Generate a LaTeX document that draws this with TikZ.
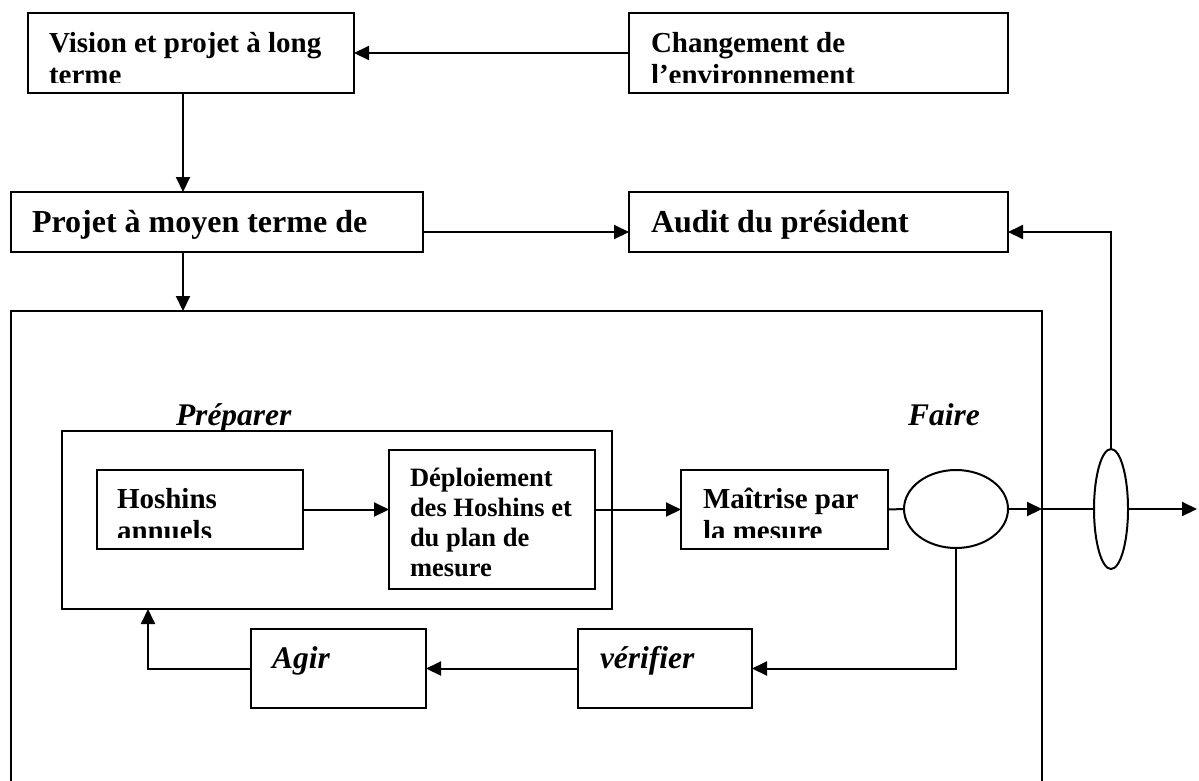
\documentclass[tikz,border=0pt]{standalone}
\usepackage{fontspec}
\setmainfont{Liberation Serif}
\usetikzlibrary{arrows.meta,shapes.geometric,calc}
\begin{document}
\begin{tikzpicture}[x=1pt,y=-1pt,
  frame/.style={draw,line width=2pt,inner sep=0pt,outer sep=0pt},
  lbl/.style={inner sep=0pt,outer sep=0pt,anchor=base west,font=\fontsize{29}{32}\selectfont\bfseries},
  biglbl/.style={lbl,font=\fontsize{32}{36}\selectfont\bfseries},
  smalllbl/.style={lbl,font=\fontsize{26.5}{30}\selectfont\bfseries},
  stage/.style={lbl,font=\fontsize{31.5}{36}\selectfont\bfseries\itshape},
  link/.style={line width=2pt},
  arr/.style={link,-{Triangle[length=15pt,width=14pt]}}]

\useasboundingbox (0,0) rectangle (1199,780);

% boxes
\node[frame,minimum width=326pt,minimum height=80pt] (vision) at (191,53) {};
\node[frame,minimum width=379pt,minimum height=80pt] (envir) at (818.5,53) {};
\node[frame,minimum width=412pt,minimum height=60pt] (moyen) at (217,222) {};
\node[frame,minimum width=379pt,minimum height=60pt] (audit) at (818.5,222) {};
\node[frame,minimum width=1031pt,minimum height=489pt] (cadre) at (526.5,555.5) {};
\node[frame,minimum width=550pt,minimum height=178pt] (prep) at (337,520) {};
\node[frame,minimum width=206pt,minimum height=79pt] (hosh) at (200,509.5) {};
\node[frame,minimum width=206pt,minimum height=139pt] (depl) at (492,519.5) {};
\node[frame,minimum width=207pt,minimum height=79pt] (mait) at (784.5,509.5) {};
\node[frame,ellipse,minimum width=104pt,minimum height=78pt] (cercle) at (956,509) {};
\node[frame,ellipse,minimum width=34pt,minimum height=120pt] (ovale) at (1111,509) {};
\node[frame,minimum width=175pt,minimum height=79pt] (agir) at (338.5,668.5) {};
\node[frame,minimum width=174pt,minimum height=79pt] (verif) at (665,668.5) {};

% texts
\node[lbl] (tvision) at (49,52) {Vision et projet à long};
\begin{scope}
  \clip (vision.north west) rectangle ($(vision.south east)+(0,-11)$);
  \node[lbl] (tvision2) at (49,84) {terme};
\end{scope}
\node[lbl] (tenvir) at (651,52) {Changement de};
\begin{scope}
  \clip (envir.north west) rectangle ($(envir.south east)+(0,-11)$);
  \node[lbl] (tenvir2) at (651,84) {l’environnement};
\end{scope}
\node[biglbl] (tmoyen) at (32,232) {Projet à moyen terme de};
\node[biglbl] (taudit) at (651,232) {Audit du président};
\node[stage] (tprep) at (176,425) {Préparer};
\node[stage] (tfaire) at (908,425) {Faire};
\node[lbl] (thosh) at (117,508) {Hoshins};
\begin{scope}
  \clip (hosh.north west) rectangle ($(hosh.south east)+(0,-12)$);
  \node[lbl] (thosh2) at (117,540) {annuels};
\end{scope}
\node[smalllbl] (td1) at (410,486) {Déploiement};
\node[smalllbl] (td2) at (410,516) {des Hoshins et};
\node[smalllbl] (td3) at (410,546) {du plan de};
\node[smalllbl] (td4) at (410,576) {mesure};
\node[lbl] (tmait) at (703,508) {Maîtrise par};
\begin{scope}
  \clip (mait.north west) rectangle ($(mait.south east)+(0,-12)$);
  \node[lbl] (tmait2) at (703,540) {la mesure};
\end{scope}
\node[stage] (tagir) at (272,668) {Agir};
\node[stage] (tverif) at (600,668) {vérifier};

% routing guides
\coordinate (colA) at (183,0);
\coordinate (colBack) at (148,0);
\coordinate (rowAudit) at (0,232);
\coordinate (sortie) at (1197,509);

% connectors
\draw[arr] (envir.west) -- (vision.east);
\draw[arr] (vision.south -| colA) -- (moyen.north -| colA);
\draw[arr] (moyen.east |- rowAudit) -- (audit.west |- rowAudit);
\draw[arr] (moyen.south -| colA) -- (cadre.north -| colA);
\draw[arr] (hosh.east) -- (depl.west |- hosh.east);
\draw[arr] (depl.east |- hosh.east) -- (mait.west);
\draw[link] (mait.east) -- (cercle.west);
\draw[arr] (cercle.east) -- (cadre.east |- cercle.east);
\draw[link] (cadre.east |- cercle.east) -- (ovale.west);
\draw[arr] (ovale.east) -- (sortie);
\draw[arr] (ovale.north) |- (audit.east |- rowAudit);
\draw[arr] (cercle.south) |- (verif.east);
\draw[arr] (verif.west) -- (agir.east);
\draw[arr] (agir.west) -| (prep.south -| colBack);
\end{tikzpicture}
\end{document}
